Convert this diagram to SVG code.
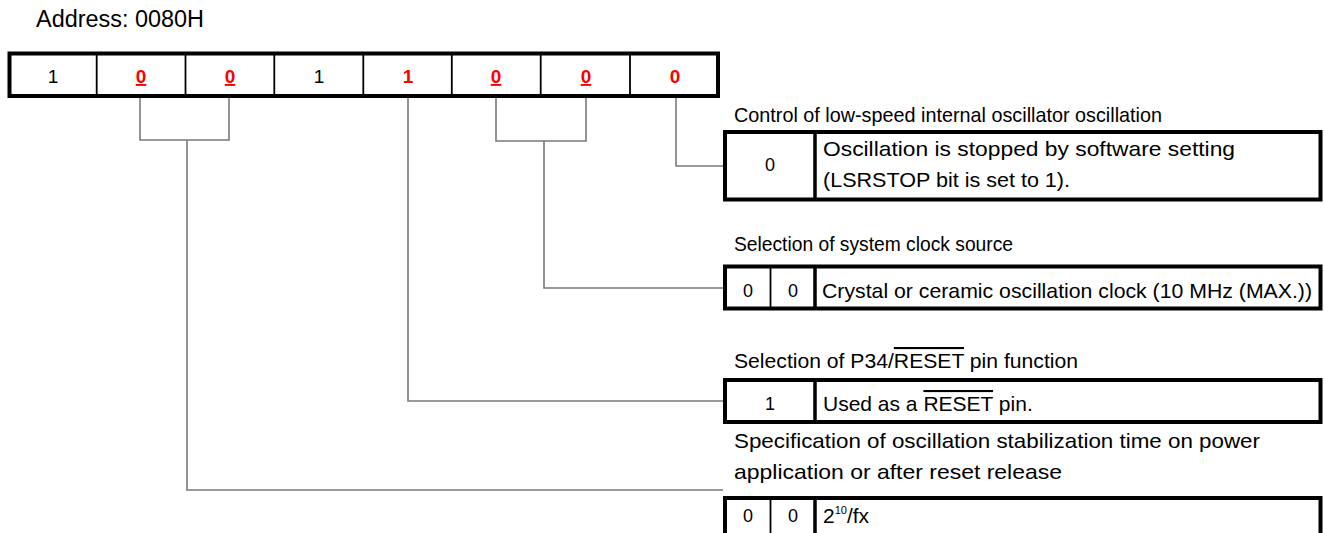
<svg xmlns="http://www.w3.org/2000/svg" width="1324" height="533" viewBox="0 0 1324 533">
<style>
  text { font-family: "Liberation Sans", Arial, sans-serif; fill: #000; }
  .lbl { font-size: 21px; }
  .addr { font-size: 23px; }
  .val { font-size: 18px; text-anchor: middle; }
  .bit { font-size: 19px; text-anchor: middle; }
  .red { fill: #ff0000; font-weight: bold; }
  .ul { text-decoration: underline; }
  .ov { text-decoration: overline; }
  .frame { fill: #fff; stroke: #000; stroke-width: 4; }
  .thin { stroke: #000; stroke-width: 1.8; }
  .thick { stroke: #000; stroke-width: 3.5; }
  .conn { fill: none; stroke: #7a7a7a; stroke-width: 1.6; }
</style>
<rect width="1324" height="533" fill="#fff"/>

<g id="address">
  <text class="addr" x="36" y="27" textLength="168" lengthAdjust="spacingAndGlyphs">Address: 0080H</text>
</g>

<g id="register">
  <rect class="frame" x="9.5" y="53.5" width="708.5" height="42.5"/>
  <line class="thin" x1="96.7" y1="53.5" x2="96.7" y2="96"/>
  <line class="thin" x1="185.5" y1="53.5" x2="185.5" y2="96"/>
  <line class="thin" x1="274.3" y1="53.5" x2="274.3" y2="96"/>
  <line class="thin" x1="363.3" y1="53.5" x2="363.3" y2="96"/>
  <line class="thin" x1="451.8" y1="53.5" x2="451.8" y2="96"/>
  <line class="thin" x1="540.7" y1="53.5" x2="540.7" y2="96"/>
  <line class="thin" x1="630" y1="53.5" x2="630" y2="96"/>
  <text class="bit" x="53" y="83">1</text>
  <text class="bit red ul" x="141" y="83">0</text>
  <text class="bit red ul" x="230" y="83">0</text>
  <text class="bit" x="319" y="83">1</text>
  <text class="bit red" x="408" y="83">1</text>
  <text class="bit red ul" x="496" y="83">0</text>
  <text class="bit red ul" x="586" y="83">0</text>
  <text class="bit red" x="675" y="83">0</text>
</g>

<g id="connectors">
  <path class="conn" d="M676,98 V166 H723"/>
  <path class="conn" d="M496,98 V141 H586 V98"/>
  <path class="conn" d="M544,141 V288 H723"/>
  <path class="conn" d="M408,98 V401 H723"/>
  <path class="conn" d="M140,98 V140 H229 V98"/>
  <path class="conn" d="M187,140 V490 H723"/>
</g>

<g id="lsrstop">
  <text class="lbl" x="734" y="122" textLength="428" lengthAdjust="spacingAndGlyphs">Control of low-speed internal oscillator oscillation</text>
  <rect class="frame" x="725" y="132" width="595.5" height="67.5"/>
  <line class="thick" x1="815" y1="132" x2="815" y2="199.5"/>
  <text class="val" x="770" y="171">0</text>
  <text class="lbl" x="823" y="156" textLength="412" lengthAdjust="spacingAndGlyphs">Oscillation is stopped by software setting</text>
  <text class="lbl" x="823" y="187" textLength="247" lengthAdjust="spacingAndGlyphs">(LSRSTOP bit is set to 1).</text>
</g>

<g id="clock">
  <text class="lbl" x="734" y="251" textLength="279" lengthAdjust="spacingAndGlyphs">Selection of system clock source</text>
  <rect class="frame" x="725" y="266.5" width="595.5" height="42"/>
  <line class="thin" x1="770.5" y1="266.5" x2="770.5" y2="308.5"/>
  <line class="thick" x1="815" y1="266.5" x2="815" y2="308.5"/>
  <text class="val" x="748" y="297">0</text>
  <text class="val" x="793" y="297">0</text>
  <text class="lbl" x="822" y="298" textLength="490" lengthAdjust="spacingAndGlyphs">Crystal or ceramic oscillation clock (10 MHz (MAX.))</text>
</g>

<g id="reset">
  <text class="lbl" x="734" y="368" textLength="344" lengthAdjust="spacingAndGlyphs">Selection of P34/<tspan class="ov">RESET</tspan> pin function</text>
  <rect class="frame" x="725" y="380" width="595.5" height="42"/>
  <line class="thick" x1="815" y1="380" x2="815" y2="422"/>
  <text class="val" x="770" y="410">1</text>
  <text class="lbl" x="823" y="411">Used as a <tspan class="ov">RESET</tspan> pin.</text>
</g>

<g id="stabilization">
  <text class="lbl" x="734" y="448" textLength="526" lengthAdjust="spacingAndGlyphs">Specification of oscillation stabilization time on power</text>
  <text class="lbl" x="734" y="479" textLength="328" lengthAdjust="spacingAndGlyphs">application or after reset release</text>
  <rect class="frame" x="725" y="498" width="595.5" height="50"/>
  <line class="thin" x1="770.5" y1="498" x2="770.5" y2="533"/>
  <line class="thick" x1="815" y1="498" x2="815" y2="533"/>
  <text class="val" x="748" y="522">0</text>
  <text class="val" x="793" y="522">0</text>
  <text class="lbl" x="823" y="523">2<tspan dy="-9" style="font-size:11px">10</tspan><tspan dy="9">/fx</tspan></text>
</g>
</svg>
